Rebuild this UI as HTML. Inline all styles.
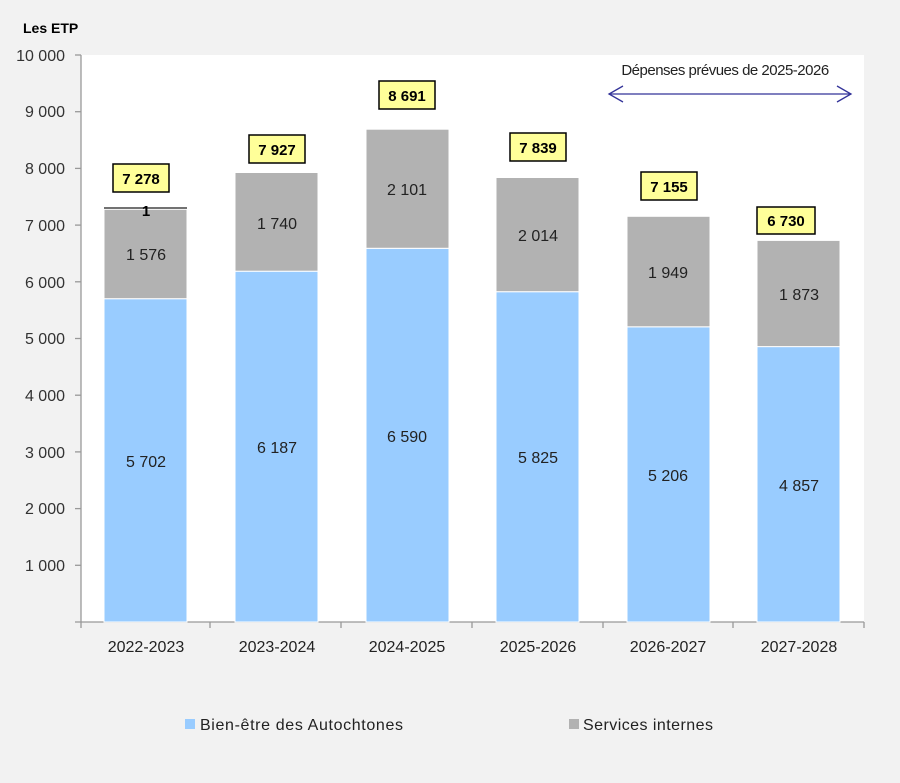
<!DOCTYPE html>
<html><head><meta charset="utf-8"><style>
body{margin:0;background:#f2f2f2;}
svg{display:block;font-family:"Liberation Sans",sans-serif;}
</style></head><body>
<svg width="900" height="783" viewBox="0 0 900 783">
<rect width="900" height="783" fill="#f2f2f2"/>
<rect x="81" y="55" width="783" height="567" fill="#fff"/>
<text x="23" y="33" font-size="14" font-weight="bold" fill="#000">Les ETP</text>
<g font-size="16" fill="#333" text-anchor="end">
<text x="65" y="61">10 000</text><text x="65" y="117">9 000</text><text x="65" y="174">8 000</text>
<text x="65" y="231">7 000</text><text x="65" y="288">6 000</text><text x="65" y="344">5 000</text>
<text x="65" y="401">4 000</text><text x="65" y="458">3 000</text><text x="65" y="514">2 000</text>
<text x="65" y="571">1 000</text>
</g>
<g stroke="#999" stroke-width="1.3">
<line x1="81" y1="55" x2="81" y2="622"/>
<line x1="75" y1="622" x2="864" y2="622"/>
<line x1="75" y1="55" x2="81" y2="55"/><line x1="75" y1="111.7" x2="81" y2="111.7"/>
<line x1="75" y1="168.4" x2="81" y2="168.4"/><line x1="75" y1="225.1" x2="81" y2="225.1"/>
<line x1="75" y1="281.8" x2="81" y2="281.8"/><line x1="75" y1="338.5" x2="81" y2="338.5"/>
<line x1="75" y1="395.2" x2="81" y2="395.2"/><line x1="75" y1="451.9" x2="81" y2="451.9"/>
<line x1="75" y1="508.6" x2="81" y2="508.6"/><line x1="75" y1="565.3" x2="81" y2="565.3"/>
<line x1="81" y1="622" x2="81" y2="628"/><line x1="210" y1="622" x2="210" y2="628"/>
<line x1="341" y1="622" x2="341" y2="628"/><line x1="472" y1="622" x2="472" y2="628"/>
<line x1="603" y1="622" x2="603" y2="628"/><line x1="733" y1="622" x2="733" y2="628"/>
<line x1="864" y1="622" x2="864" y2="628"/>
</g>
<g stroke="#fff" stroke-width="1">
<rect x="104" y="298.7" width="83" height="323.3" fill="#99ccff"/>
<rect x="104" y="209.3" width="83" height="89.4" fill="#b2b2b2"/>
<rect x="235" y="271.2" width="83" height="350.8" fill="#99ccff"/>
<rect x="235" y="172.5" width="83" height="98.7" fill="#b2b2b2"/>
<rect x="366" y="248.3" width="83" height="373.7" fill="#99ccff"/>
<rect x="366" y="129.2" width="83" height="119.1" fill="#b2b2b2"/>
<rect x="496" y="291.7" width="83" height="330.3" fill="#99ccff"/>
<rect x="496" y="177.5" width="83" height="114.2" fill="#b2b2b2"/>
<rect x="627" y="326.8" width="83" height="295.2" fill="#99ccff"/>
<rect x="627" y="216.3" width="83" height="110.5" fill="#b2b2b2"/>
<rect x="757" y="346.6" width="83" height="275.4" fill="#99ccff"/>
<rect x="757" y="240.4" width="83" height="106.2" fill="#b2b2b2"/>
</g>
<line x1="104" y1="208" x2="187" y2="208" stroke="#444" stroke-width="1.5"/>
<text x="146" y="216" font-size="15" font-weight="bold" text-anchor="middle">1</text>
<g font-size="16" fill="#222" text-anchor="middle">
<text x="146" y="467">5 702</text><text x="146" y="260">1 576</text>
<text x="277" y="453">6 187</text><text x="277" y="229">1 740</text>
<text x="407" y="442">6 590</text><text x="407" y="195">2 101</text>
<text x="538" y="463">5 825</text><text x="538" y="241">2 014</text>
<text x="668" y="481">5 206</text><text x="668" y="278">1 949</text>
<text x="799" y="491">4 857</text><text x="799" y="300">1 873</text>
</g>
<g stroke="#000" stroke-width="1.5" fill="#ffff99">
<rect x="113" y="164" width="56" height="28"/>
<rect x="249" y="135" width="56" height="28"/>
<rect x="379" y="81" width="56" height="28"/>
<rect x="510" y="133" width="56" height="28"/>
<rect x="641" y="172" width="56" height="28"/>
<rect x="757" y="207" width="58" height="27"/>
</g>
<g font-size="15" font-weight="bold" text-anchor="middle" fill="#000">
<text x="141" y="184">7 278</text><text x="277" y="155">7 927</text>
<text x="407" y="101">8 691</text><text x="538" y="153">7 839</text>
<text x="669" y="192">7 155</text><text x="786" y="226">6 730</text>
</g>
<text x="725" y="75" font-size="15" text-anchor="middle" fill="#222" letter-spacing="-0.5">Dépenses prévues de 2025-2026</text>
<g stroke="#333399" stroke-width="1.3" fill="none">
<line x1="609" y1="94" x2="851" y2="94"/>
<polyline points="623,86 609,94 623,102"/>
<polyline points="837,86 851,94 837,102"/>
</g>
<g font-size="16" fill="#222" text-anchor="middle">
<text x="146" y="652">2022-2023</text><text x="277" y="652">2023-2024</text>
<text x="407" y="652">2024-2025</text><text x="538" y="652">2025-2026</text>
<text x="668" y="652">2026-2027</text><text x="799" y="652">2027-2028</text>
</g>
<rect x="185" y="719" width="10" height="10" fill="#99ccff"/>
<text x="200" y="730" font-size="16" fill="#222" textLength="203">Bien-être des Autochtones</text>
<rect x="569" y="719" width="10" height="10" fill="#b2b2b2"/>
<text x="583" y="730" font-size="16" fill="#222" textLength="130">Services internes</text>
</svg>
</body></html>
